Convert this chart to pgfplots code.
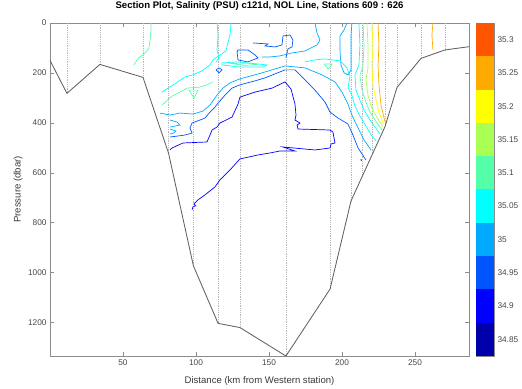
\documentclass[border=0pt]{standalone}
\usepackage{fontspec}
\setmainfont{Liberation Sans}
\usepackage{pgfplots}
\pgfplotsset{compat=1.18}
\definecolor{cA}{RGB}{0,0,170}
\definecolor{cB}{RGB}{0,0,255}
\definecolor{cC}{RGB}{0,85,255}
\definecolor{cD}{RGB}{0,170,255}
\definecolor{cE}{RGB}{0,255,255}
\definecolor{cF}{RGB}{85,255,170}
\definecolor{cG}{RGB}{170,255,85}
\definecolor{cH}{RGB}{255,255,0}
\definecolor{cI}{RGB}{255,170,0}
\definecolor{cJ}{RGB}{255,85,0}
\definecolor{framegray}{RGB}{140,140,140}
\definecolor{ticklab}{RGB}{70,70,70}
\pgfplotsset{ctr/.style={line width=0.7pt}}
\begin{document}
\begin{tikzpicture}
\useasboundingbox (-50bp,-33bp) rectangle (472bp,356bp);
\begin{axis}[
  at={(0,0)}, anchor=south west,
  scale only axis, width=419bp, height=333bp,
  xmin=0, xmax=287, ymin=0, ymax=1335, y dir=reverse,
  xtick={50,100,150,200,250}, ytick={0,200,400,600,800,1000,1200},
  tick align=inside, major tick length=4bp,
  axis line style={framegray, line width=0.6pt}, tick style={framegray},
  /pgf/number format/assume math mode=true,
  /pgf/number format/set thousands separator={},
  tick label style={font=\fontsize{8.3}{10}\selectfont, text=ticklab},
  label style={font=\fontsize{9.6}{11}\selectfont, text=ticklab!80!black},
  title style={font=\bfseries\fontsize{9.6}{11}\selectfont, at={(axis description cs:0.5,1.033)}, anchor=center},
  title={Section Plot, Salinity (PSU) c121d, NOL Line, Stations 609 : 626},
  xlabel={Distance (km from Western station)},
  ylabel={Pressure (dbar)},
  xlabel style={at={(axis description cs:0.5,-0.074)}, anchor=center},
  ylabel style={at={(axis description cs:-0.076,0.5)}, anchor=center},
]
% station dotted lines
\addplot[ycomb, black!28, dash pattern=on 0.6pt off 1.2pt, line width=0.45pt] coordinates {
(11.6,282) (34.2,166) (63.7,218) (81.2,522) (98.2,973) (115.1,1204) (130.1,1221)
(161.6,1335) (191.8,1067) (206.2,713) (213.7,617) (220.5,530) (229.5,415)
(237.7,258) (254.1,142) (270.5,108)};
% bottom profile
\addplot[black!62, line width=0.85pt] coordinates {
(0,150) (11.6,282) (34.2,166) (63.7,218) (81.2,522) (98.2,973) (115.1,1204) (130.1,1221)
(161.6,1335) (191.8,1067) (206.2,713) (213.7,617) (220.5,530) (229.5,415)
(237.7,258) (254.1,142) (270.5,108) (287,95)};
% 34.90
\addplot[cB, ctr] coordinates {
(82.2,509) (83.6,501) (91.1,481) (107.5,477) (109.6,449) (111.0,429) (114.4,417) (116.4,401)
(124.7,377) (128.8,325) (130.1,297) (140.4,277) (152.1,261) (161.0,236) (165.1,265)
(167.8,325) (168.5,369) (167.8,389) (171.2,401) (169.2,409) (169.9,425) (191.8,429)
(193.8,437) (195.2,481) (192.5,485) (191.8,501) (181.5,509) (159.6,497) (167.8,513)
(157.5,513) (150.7,521) (142.5,529) (130.1,545) (123.3,589) (116.4,629) (113.0,657)
(106.2,689) (101.4,709) (98.6,725) (99.8,733) (97.9,737) (97.3,749)};
\addplot[cB, line width=0.9pt] coordinates {(212.9,547) (213.4,552)};
% 34.95
\addplot[cC, ctr] coordinates {
(82.2,457) (87.7,453) (92.5,449) (97.3,441) (95.9,421) (97.3,401) (102.7,389) (106.2,381)
(109.6,357) (113.0,337) (115.1,321) (119.9,289) (124.7,261) (130.1,248) (140.4,232)
(147.3,220) (154.1,204) (161.0,188) (167.8,188) (174.7,228) (181.5,269) (188.4,317)
(191.8,357) (197.3,381) (204.1,405) (207.5,449) (211.0,501) (216.4,549)};
\addplot[cC, ctr] coordinates {
(139.0,80) (149.3,84) (147.3,92) (154.1,96) (158.9,88) (159.6,52) (164.4,48) (166.4,68)
(165.8,96) (163.0,104) (161.6,140)};
\addplot[cC, ctr] coordinates {
(128.1,116) (128.8,148) (135.6,156) (142.5,140) (140.4,128) (135.6,108) (128.8,108) (128.1,116)};
\addplot[cC, ctr] coordinates {
(113.7,188) (115.8,180) (117.8,188) (115.8,200) (113.7,188)};
% 35.00
\addplot[cD, ctr] coordinates {
(203.4,0) (201.4,28) (198.6,52) (198.6,108) (199.3,168) (201.4,200) (204.1,208) (206.2,188)
(206.2,108) (206.2,48) (206.8,0)};
\addplot[cD, ctr] coordinates {
(181.5,0) (182.9,40) (184.9,68) (182.9,88) (174.7,112) (165.8,120) (157.5,132) (150.7,136) (145.2,136)};
\addplot[cD, ctr] coordinates {
(75.3,361) (82.2,369) (89.0,361) (97.9,365) (104.8,353) (109.6,329) (114.4,289) (118.5,261)
(123.3,240) (130.1,224) (145.2,200) (161.0,172) (174.7,180) (186.3,208) (195.2,236)
(200.0,277) (204.1,325) (206.8,369) (211.0,421) (215.1,469) (219.9,509)};
\addplot[cD, ctr] coordinates {(82.2,389) (87.0,397) (89.0,409) (82.2,417)};
\addplot[cD, ctr] coordinates {(82.2,425) (86.3,433) (84.9,441) (82.2,445)};
% 35.05
\addplot[cE, ctr] coordinates {
(114.4,0) (115.1,48) (114.4,108) (115.8,140) (113.7,156)};
\addplot[cE, ctr] coordinates {
(124.0,0) (123.3,48) (121.9,80) (120.5,112) (111.6,148) (109.6,168) (104.1,192) (97.9,208)
(92.5,216) (85.6,244) (80.8,261) (76.7,277)};
\addplot[cE, ctr] coordinates {
(117.8,160) (128.8,156) (148.6,168) (145.9,176) (128.8,176) (117.8,168) (117.8,160)};
\addplot[cE, ctr] coordinates {
(174.7,156) (181.5,148) (188.4,144) (198.6,152) (203.4,180) (205.5,212) (204.1,261)
(206.8,289) (208.9,333) (212.3,373) (216.4,413) (220.5,453) (223.3,473)};
\addplot[cE, ctr] coordinates {
(211.6,0) (212.3,88) (211.6,168) (208.9,208) (209.6,269) (212.3,309) (215.1,349) (219.2,389) (226.0,445)};
% 35.10
\addplot[cF, ctr] coordinates {
(69.2,0) (69.2,28) (68.5,68) (67.8,100) (65.8,116) (61.6,136) (59.6,148) (57.5,168)};
\addplot[cF, ctr] coordinates {
(76.7,329) (83.6,293) (89.0,277) (93.8,261) (102.7,257) (107.5,248) (111.6,236)};
\addplot[cF, ctr] coordinates {(95.2,269) (101.4,269) (98.6,301) (95.2,269)};
\addplot[cF, ctr] coordinates {(123.3,162) (133.6,160) (142.5,166) (133.6,170) (123.3,162)};
\addplot[cF, ctr] coordinates {(187.7,164) (193.2,164) (190.4,184) (187.7,164)};
\addplot[cF, ctr] coordinates {
(214.4,0) (215.1,88) (214.4,168) (212.3,212) (213.7,269) (216.4,317) (219.2,357) (222.6,389) (227.4,429)};
% 35.15
\addplot[cG, ctr] coordinates {
(217.1,0) (217.8,88) (217.8,180) (216.4,228) (217.8,289) (219.9,333) (222.6,365) (228.1,417)};
% 35.20
\addplot[cH, ctr] coordinates {
(220.5,0) (221.2,88) (220.5,168) (221.2,248) (223.3,309) (225.3,357) (228.8,409)};
% 35.25
\addplot[cI, ctr] coordinates {
(224.7,0) (225.3,88) (224.7,168) (225.3,248) (226.7,329) (229.5,397)};
\addplot[cI, ctr] coordinates {(262.3,0) (261.6,48) (262.3,108)};
\end{axis}
% colorbar
\begin{axis}[
  at={(426bp,0)}, anchor=south west,
  scale only axis, width=18bp, height=333bp,
  xmin=0, xmax=1, ymin=34.825, ymax=35.325,
  xtick=\empty,
  ytick={34.85,34.9,34.95,35,35.05,35.1,35.15,35.2,35.25,35.3},
  yticklabels={34.85,34.9,34.95,35,35.05,35.1,35.15,35.2,35.25,35.3},
  ytick pos=right, yticklabel pos=right,
  tick align=inside, major tick length=3bp,
  axis line style={framegray, line width=0.6pt}, tick style={framegray},
  tick label style={font=\fontsize{8.3}{10}\selectfont, text=ticklab},
]
\addplot[fill=cA, draw=none] coordinates {(0,34.825) (1,34.825) (1,34.875) (0,34.875)} -- cycle;
\addplot[fill=cB, draw=none] coordinates {(0,34.875) (1,34.875) (1,34.925) (0,34.925)} -- cycle;
\addplot[fill=cC, draw=none] coordinates {(0,34.925) (1,34.925) (1,34.975) (0,34.975)} -- cycle;
\addplot[fill=cD, draw=none] coordinates {(0,34.975) (1,34.975) (1,35.025) (0,35.025)} -- cycle;
\addplot[fill=cE, draw=none] coordinates {(0,35.025) (1,35.025) (1,35.075) (0,35.075)} -- cycle;
\addplot[fill=cF, draw=none] coordinates {(0,35.075) (1,35.075) (1,35.125) (0,35.125)} -- cycle;
\addplot[fill=cG, draw=none] coordinates {(0,35.125) (1,35.125) (1,35.175) (0,35.175)} -- cycle;
\addplot[fill=cH, draw=none] coordinates {(0,35.175) (1,35.175) (1,35.225) (0,35.225)} -- cycle;
\addplot[fill=cI, draw=none] coordinates {(0,35.225) (1,35.225) (1,35.275) (0,35.275)} -- cycle;
\addplot[fill=cJ, draw=none] coordinates {(0,35.275) (1,35.275) (1,35.325) (0,35.325)} -- cycle;
\end{axis}
\end{tikzpicture}
\end{document}
